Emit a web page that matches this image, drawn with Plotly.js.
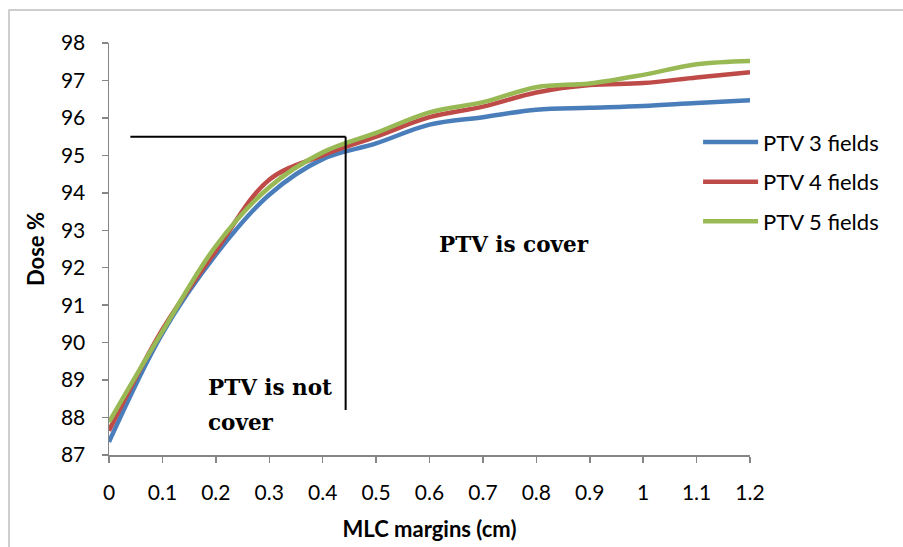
<!DOCTYPE html>
<html>
<head>
<meta charset="utf-8">
<script src="https://cdn.plot.ly/plotly-3.0.1.min.js"></script>
<style>html,body{margin:0;padding:0;background:#fff;}#chart{width:903px;height:547px;}</style>
</head>
<body>
<div id="chart"></div>
<script>
const margins = [0, 0.1, 0.2, 0.3, 0.4, 0.5, 0.6, 0.7, 0.8, 0.9, 1.0, 1.1, 1.2];
const ptv3 = [87.35, 90.25, 92.35, 93.95, 94.9, 95.32, 95.82, 96.02, 96.22, 96.27, 96.32, 96.4, 96.47];
const ptv4 = [87.65, 90.35, 92.45, 94.35, 95.0, 95.5, 96.02, 96.3, 96.68, 96.88, 96.93, 97.08, 97.22];
const ptv5 = [87.88, 90.3, 92.58, 94.15, 95.08, 95.6, 96.15, 96.42, 96.82, 96.92, 97.15, 97.43, 97.52];
const seriesNames = ["PTV 3 fields", "PTV 4 fields", "PTV 5 fields"];
const seriesColors = ["#4a7ebb", "#be4b48", "#98b954"];
const limitX = [0.04, 0.443];   // horizontal threshold line x range
const limitY = [95.5, 88.2];    // threshold dose and bottom of vertical line

const traces = [ptv3, ptv4, ptv5].map((v, i) => ({
  x: margins, y: v, type: 'scatter', mode: 'lines', name: seriesNames[i],
  legendgroup: 'g' + i,
  line: {color: seriesColors[i], width: 4.5, shape: 'spline', smoothing: 1}
}));

const axisColor = '#868686';
const tickFont = {size: 21, family: 'Lato, sans-serif', color: '#000'};
const titleFont = {size: 22, family: 'Lato, sans-serif', weight: 'bold', color: '#000'};
const noteFont = {size: 21.5, family: '"DejaVu Serif", serif', weight: 'bold', color: '#000'};
const layout = {
  width: 903, height: 547,
  margin: {l: 109, r: 153, t: 43, b: 92},
  paper_bgcolor: '#fff', plot_bgcolor: '#fff',
  font: {family: 'Lato, sans-serif', color: '#000'},
  xaxis: {
    range: [0, 1.2], tickvals: margins, ticktext: margins.map(String),
    showgrid: false, zeroline: false, showline: true, linecolor: axisColor, linewidth: 1.5,
    ticks: 'outside', ticklen: 6, tickcolor: axisColor, tickwidth: 1.5,
    tickfont: tickFont, ticklabelstandoff: 12,
    title: {text: 'MLC margins (cm)', font: titleFont, standoff: 19}
  },
  yaxis: {
    range: [87, 98], dtick: 1, tick0: 87,
    showgrid: false, zeroline: false, showline: true, linecolor: axisColor, linewidth: 1.5,
    ticks: 'outside', ticklen: 6, tickcolor: axisColor, tickwidth: 1.5,
    tickfont: tickFont, ticklabelstandoff: 12,
    title: {text: 'Dose %', font: titleFont, standoff: 10}
  },
  legend: {
    x: 0.919, y: 0.81, xanchor: 'left', yanchor: 'top',
    font: {size: 22, family: 'Lato, sans-serif', color: '#000'},
    itemwidth: 55, bgcolor: 'rgba(0,0,0,0)', tracegroupgap: 8, traceorder: 'grouped'
  },
  shapes: [
    {type: 'line', xref: 'x', yref: 'y', x0: limitX[0], x1: limitX[1], y0: limitY[0], y1: limitY[0], line: {color: '#000', width: 2}},
    {type: 'line', xref: 'x', yref: 'y', x0: limitX[1], x1: limitX[1], y0: limitY[0], y1: limitY[1], line: {color: '#000', width: 2}},
    {type: 'rect', xref: 'paper', yref: 'paper', x0: -0.156, x1: 1.5, y0: -0.4, y1: 1.08, line: {color: '#bfbfbf', width: 1.5}, layer: 'below'}
  ],
  annotations: [
    {xref: 'x', yref: 'y', x: 0.181, y: 88.8, xanchor: 'left', yanchor: 'middle', showarrow: false, align: 'left',
     text: 'PTV is not', font: noteFont},
    {xref: 'x', yref: 'y', x: 0.181, y: 87.88, xanchor: 'left', yanchor: 'middle', showarrow: false, align: 'left',
     text: 'cover', font: noteFont},
    {xref: 'x', yref: 'y', x: 0.614, y: 92.63, xanchor: 'left', yanchor: 'middle', showarrow: false,
     text: 'PTV is cover', font: noteFont}
  ],
  showlegend: true
};

Plotly.newPlot('chart', traces, layout, {displayModeBar: false, staticPlot: true});
</script>
</body>
</html>
